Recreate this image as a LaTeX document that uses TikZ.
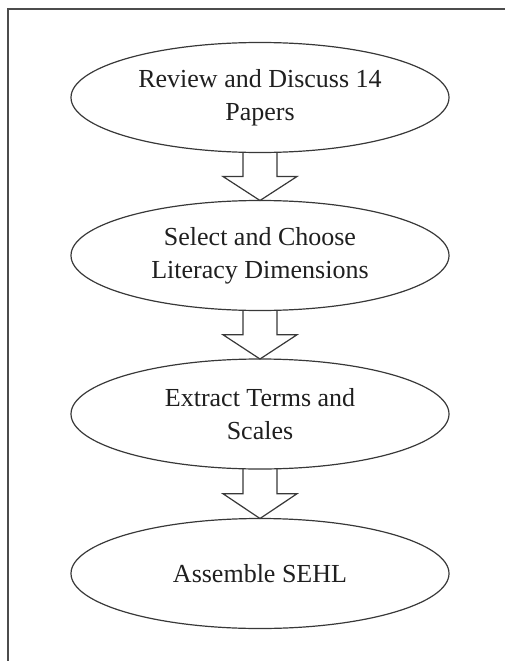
\documentclass[tikz,border=0pt]{standalone}
\usepackage{fontspec}
\setmainfont{Liberation Serif}
\usetikzlibrary{shapes.geometric,calc}
\tikzset{
  stage/.style={ellipse, draw=black!78, line width=1.2pt, minimum width=378pt, minimum height=110pt, inner sep=0pt, outer sep=0pt, align=center, text=black!88, font=\fontsize{26}{33}\selectfont},
  frameline/.style={draw=black!70, line width=1.4pt},
  blockarrow/.style={draw=black!78, line width=1.2pt, line join=miter}
}
\newcommand\flowarrow[2]{%
  \draw[blockarrow] ($(#1.south)+(-17,0)$) -- ($(#1.south)!0.5!(#2.north)+(-17,0)$) -- ($(#1.south)!0.5!(#2.north)+(-37,0)$) -- (#2.north) -- ($(#1.south)!0.5!(#2.north)+(37,0)$) -- ($(#1.south)!0.5!(#2.north)+(17,0)$) -- ($(#1.south)+(17,0)$);%
}
\begin{document}
\begin{tikzpicture}[x=1pt,y=-1pt]
\useasboundingbox (0,0) rectangle (505,661);
\coordinate (fr1) at (505,9);
\coordinate (fr2) at (8,9);
\coordinate (fr3) at (8,661);
\draw[frameline] (fr1) -- (fr2) -- (fr3);
\node[stage] (s1) at (260,97.5) {Review and Discuss 14\\Papers};
\node[stage] (s2) at (260,255.5) {Select and Choose\\Literacy Dimensions};
\node[stage] (s3) at (260,414) {Extract Terms and\\Scales};
\node[stage] (s4) at (260,573.5) {Assemble SEHL};
\flowarrow{s1}{s2}
\flowarrow{s2}{s3}
\flowarrow{s3}{s4}
\end{tikzpicture}
\end{document}
